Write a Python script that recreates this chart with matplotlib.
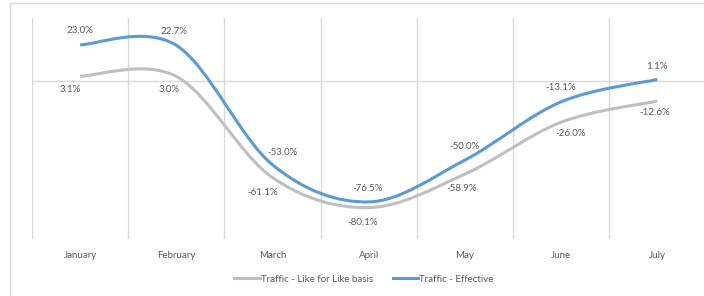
import matplotlib
matplotlib.use("Agg")
import matplotlib.pyplot as plt
from matplotlib.path import Path
from matplotlib.patches import PathPatch, Rectangle
from matplotlib.lines import Line2D
import numpy as np

# ---- data ----
months = ["January", "February", "March", "April", "May", "June", "July"]
like_for_like = [3.1, 3.0, -61.1, -80.1, -58.9, -26.0, -12.6]
effective = [23.0, 22.7, -53.0, -76.5, -50.0, -13.1, 1.1]
series_names = ["Traffic - Like for Like basis", "Traffic - Effective"]

# ---- style ----
GRAY = "#BFBFBF"
BLUE = "#5B9BD5"
GRID = "#D9D9D9"
TXT = "#595959"
FONT = "Lato"
FS = 7

# label offsets in pixels (dx, dy upward positive)
off_eff = [(0, 14), (-2, 14), (10, 12), (-1, 13), (0, 14), (0, 14), (0, 13)]
off_lfl = [(-10, -13), (-7, -13), (-10, -14.5), (-6, -14.5), (-3, -14), (9, -11), (-3, -11)]

W, H = 704, 296
fig = plt.figure(figsize=(W / 100, H / 100), dpi=100)
fig.patches.append(Rectangle((10 / W, -0.1), 1.2, 1.1 - 3 / H + 0.0, transform=fig.transFigure,
                             fill=False, edgecolor=GRID, lw=1.0, zorder=0))

ax = fig.add_axes([32 / W, 1 - 239 / H, 673.4 / W, 221 / H])
ax.set_xlim(-0.5, len(months) - 0.5)
ax.set_ylim(-100, 40)
for s in ax.spines.values():
    s.set_visible(False)
ax.set_yticks([])
ax.set_xticks(range(len(months)))
ax.set_xticklabels(months, fontsize=FS, color=TXT, family=FONT)
ax.tick_params(axis="x", length=0, pad=9)
for b in np.arange(-0.5, len(months), 1.0):
    ax.axvline(b, color=GRID, lw=1.0, zorder=1)
ax.axhline(0, color=GRID, lw=1.0, zorder=1)


def smooth_path(xs, ys):
    pts = np.column_stack([xs, ys]).astype(float)
    n = len(pts)
    verts = [pts[0]]
    codes = [Path.MOVETO]
    for i in range(n - 1):
        p0 = pts[max(i - 1, 0)]
        p1 = pts[i]
        p2 = pts[i + 1]
        p3 = pts[min(i + 2, n - 1)]
        c1 = p1 + (p2 - p0) / 6.0
        c2 = p2 - (p3 - p1) / 6.0
        verts += [c1, c2, p2]
        codes += [Path.CURVE4] * 3
    return Path(verts, codes)


x = np.arange(len(months))
for vals, col in [(like_for_like, GRAY), (effective, BLUE)]:
    ax.add_patch(PathPatch(smooth_path(x, vals), fill=False, edgecolor=col, lw=2.2,
                           capstyle="butt", joinstyle="round", zorder=3))

for vals, offs in [(effective, off_eff), (like_for_like, off_lfl)]:
    for xi, v, (dx, dy) in zip(x, vals, offs):
        ax.annotate(f"{v:.1f}%", (xi, v), xytext=(dx, dy), textcoords="offset pixels",
                    ha="center", va="center", fontsize=FS, color=TXT, family=FONT,
                    annotation_clip=False)

handles = [Line2D([], [], color=GRAY, lw=2.2), Line2D([], [], color=BLUE, lw=2.2)]
fig.legend(handles, series_names, loc="center", bbox_to_anchor=(364 / W, 1 - 279 / H),
           ncol=2, frameon=False, prop={"family": FONT, "size": FS},
           labelcolor=TXT, handlelength=2.6, handletextpad=0.15, columnspacing=2.0,
           borderpad=0, borderaxespad=0)

fig.savefig("out.png", dpi=100)
